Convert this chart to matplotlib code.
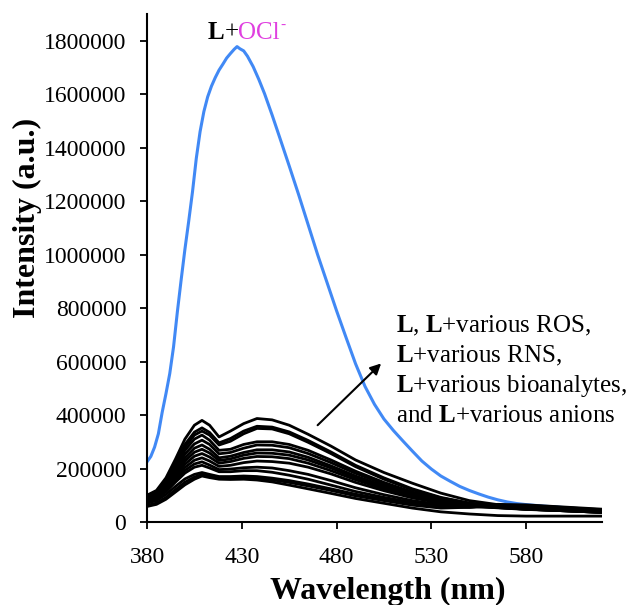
import matplotlib
matplotlib.use('Agg')
import matplotlib.pyplot as plt

plt.rcParams['font.family'] = 'Liberation Serif'
plt.rcParams['mathtext.fontset'] = 'custom'
plt.rcParams['mathtext.rm'] = 'Liberation Serif'
plt.rcParams['mathtext.bf'] = 'Liberation Serif:bold'

# ---------------- data ----------------
# L + OCl- (blue)
ocl_wavelength = [380, 382, 384, 386, 388, 390, 392, 394, 396, 398, 400, 402, 404, 406,
                  408, 410, 412, 414, 416, 418, 420, 422, 424, 426, 427.5, 429, 431, 433,
                  436, 439, 442, 446, 450, 455, 460, 465, 470, 475, 480, 485, 490, 495,
                  500, 505, 510, 515, 520, 525, 530, 535, 540, 545, 550, 555, 560, 565,
                  570, 575, 580, 590, 600, 610, 620]
ocl_intensity = [225000, 245000, 280000, 330000, 410000, 480000, 555000, 655000, 785000,
                 905000, 1020000, 1125000, 1235000, 1360000, 1460000, 1535000, 1590000,
                 1630000, 1662000, 1690000, 1712000, 1735000, 1752000, 1768000, 1778000,
                 1770000, 1762000, 1742000, 1703000, 1655000, 1602000, 1522000, 1438000,
                 1332000, 1224000, 1112000, 1000000, 895000, 790000, 690000, 592000,
                 507000, 440000, 385000, 342000, 303000, 265000, 228000, 198000, 172000,
                 152000, 133000, 118000, 105000, 93000, 83000, 75000, 69000, 65000,
                 59000, 54000, 48000, 44000]

# L, L + ROS / RNS / bioanalytes / anions (black), values in thousands
wavelength = [380, 385, 390, 395, 400, 405, 409, 413, 418, 424, 431, 438, 446, 455, 465,
              477, 490, 505, 520, 535, 550, 565, 580, 600, 620]

curve_01 = [100, 118, 165, 235, 310, 362, 380, 362, 318, 340, 368, 387, 382, 362, 328,
            284, 232, 185, 145, 108, 80, 65, 56, 48, 42]
curve_02 = [98, 114, 158, 222, 290, 336, 352, 335, 296, 312, 340, 358, 355, 337, 305,
            262, 212, 165, 124, 92, 71, 60, 53, 46, 40]
curve_03 = [95, 112, 154, 215, 280, 325, 340, 325, 288, 302, 330, 350, 348, 330, 298,
            256, 207, 160, 120, 90, 70, 59, 52, 45, 39]
curve_04 = [92, 108, 148, 205, 268, 310, 325, 306, 268, 272, 290, 300, 300, 290, 268,
            232, 190, 148, 112, 85, 66, 57, 50, 44, 38]
curve_05 = [90, 105, 142, 196, 254, 292, 306, 290, 255, 260, 276, 288, 287, 278, 256,
            222, 182, 142, 108, 82, 64, 56, 49, 43, 37]
curve_06 = [88, 102, 137, 188, 240, 276, 288, 272, 240, 246, 260, 270, 270, 262, 242,
            210, 172, 135, 103, 79, 62, 55, 48, 42, 36]
curve_07 = [85, 99, 132, 180, 228, 261, 272, 258, 230, 236, 250, 258, 257, 250, 232,
            202, 165, 130, 99, 76, 61, 54, 48, 42, 36]
curve_08 = [83, 96, 127, 172, 216, 246, 256, 243, 220, 226, 238, 245, 244, 237, 220,
            192, 158, 124, 95, 74, 60, 54, 48, 42, 36]
curve_09 = [80, 93, 122, 164, 204, 231, 240, 228, 208, 212, 222, 228, 226, 220, 205,
            180, 148, 117, 90, 71, 59, 53, 47, 42, 36]
curve_10 = [78, 90, 118, 156, 193, 217, 225, 213, 196, 198, 203, 205, 202, 192, 178,
            155, 128, 102, 80, 65, 58, 60, 55, 48, 40]
curve_11 = [75, 87, 113, 149, 183, 205, 212, 202, 188, 188, 192, 192, 186, 175, 160,
            138, 114, 92, 73, 60, 55, 58, 58, 50, 42]
curve_12 = [70, 80, 103, 133, 161, 178, 185, 178, 170, 170, 172, 170, 164, 155, 142,
            124, 104, 85, 68, 57, 56, 62, 62, 54, 46]
curve_13 = [62, 71, 92, 121, 149, 168, 178, 172, 165, 165, 166, 164, 158, 148, 135,
            118, 98, 80, 63, 52, 55, 66, 64, 56, 48]
curve_14 = [58, 66, 85, 112, 139, 160, 172, 166, 160, 159, 160, 157, 150, 138, 124,
            107, 88, 70, 52, 38, 30, 24, 22, 22, 22]
black_curves = [curve_01, curve_02, curve_03, curve_04, curve_05, curve_06, curve_07,
                curve_08, curve_09, curve_10, curve_11, curve_12, curve_13, curve_14]
black_scale = 1000

xticks = [380, 430, 480, 530, 580]
yticks = [0, 200000, 400000, 600000, 800000, 1000000, 1200000, 1400000, 1600000, 1800000]

# ---------------- figure ----------------
fig = plt.figure(figsize=(6.35, 6.05), dpi=100)
ax = fig.add_axes([0.2315, 0.1372, 0.7165, 0.8397])

ax.plot(ocl_wavelength, ocl_intensity, color='#4189f5', lw=2.2, zorder=2)
for c in black_curves:
    ax.plot(wavelength, [v * black_scale for v in c], color='black', lw=2.0, zorder=3)

ax.set_xlim(380, 620)
ax.set_ylim(0, 1900000)
ax.set_xticks(xticks, [str(t) for t in xticks])
ax.set_yticks(yticks, [str(t) for t in yticks])

for s in ['top', 'right']:
    ax.spines[s].set_visible(False)
for s in ['left', 'bottom']:
    ax.spines[s].set_linewidth(1.5)

ax.tick_params(direction='out', length=5, width=1.3, labelsize=17, colors='black')
ax.tick_params(axis='y', pad=10)
ax.tick_params(axis='x', pad=13)

ax.set_xlabel('Wavelength (nm)', fontsize=23, fontweight='bold')
ax.xaxis.label.set_va('baseline')
ax.xaxis.set_label_coords(0.529, -0.152)
ax.set_ylabel('Intensity (a.u.)', fontsize=23, fontweight='bold')
ax.yaxis.label.set_va('center')
ax.yaxis.set_label_coords(-0.262, 0.598)

# top label: L+OCl-
t1 = ax.text(412, 1808000, 'L', fontsize=18, fontweight='bold', color='black',
             va='baseline', ha='left')
t2 = ax.annotate('+', xy=(1, 0), xycoords=t1, fontsize=18, color='black',
                 va='bottom', ha='left')
t3 = ax.annotate('OCl', xy=(1, 0), xycoords=t2, fontsize=18, color='#e040e0',
                 va='bottom', ha='left')
ax.annotate('-', xy=(1, 1), xycoords=t3, xytext=(0.5, 2), textcoords='offset points',
            fontsize=11, color='#e040e0', va='top', ha='left')

# right annotation
lines = [r'$\mathbf{L}$, $\mathbf{L}$+various ROS,',
         r'$\mathbf{L}$+various RNS,',
         r'$\mathbf{L}$+various bioanalytes,',
         r'and $\mathbf{L}$+various anions']
line_y = [709000, 597000, 485000, 373000]
for s, y in zip(lines, line_y):
    ax.text(511.6, y, s, fontsize=18, color='black', va='baseline', ha='left')

ax.annotate('', xy=(503.5, 593000), xytext=(470, 362000),
            arrowprops=dict(arrowstyle='-|>', color='black', lw=1.5,
                            mutation_scale=16, shrinkA=0, shrinkB=0))

fig.savefig('out.png', dpi=100)
